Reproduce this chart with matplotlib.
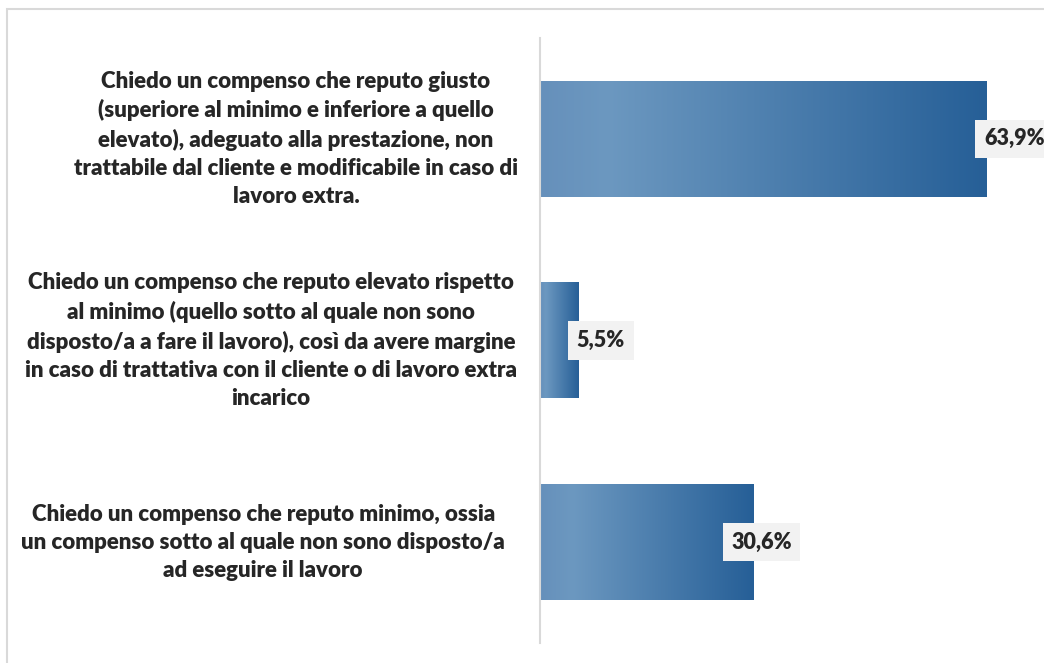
import matplotlib
matplotlib.use("Agg")
import matplotlib.pyplot as plt
import numpy as np
from matplotlib.colors import LinearSegmentedColormap
from matplotlib.patches import Rectangle

categories = [
    "Chiedo un compenso che reputo giusto\n(superiore al minimo e inferiore a quello\nelevato), adeguato alla prestazione, non\ntrattabile dal cliente e modificabile in caso di\nlavoro extra.",
    "Chiedo un compenso che reputo elevato rispetto\nal minimo (quello sotto al quale non sono\ndisposto/a a fare il lavoro), così da avere margine\nin caso di trattativa con il cliente o di lavoro extra\nincarico",
    "Chiedo un compenso che reputo minimo, ossia\nun compenso sotto al quale non sono disposto/a\nad eseguire il lavoro",
]
values = [63.9, 5.5, 30.6]
value_labels = ["63,9%", "5,5%", "30,6%"]

plt.rcParams["font.family"] = ["Lato", "DejaVu Sans"]

fig = plt.figure(figsize=(10.44, 6.63), dpi=100)
W, H = 1044, 663

# outer chart frame, runs past the right and bottom edges
fig.patches.append(Rectangle((7 / W, -0.1), 1.2, 1.1 - 9 / H, transform=fig.transFigure,
                             fill=False, edgecolor="#d9d9d9", linewidth=1.5))

ax = fig.add_axes([540 / W, 1 - 643 / H, 489 / W, 605 / H])

cmap = LinearSegmentedColormap.from_list(
    "bar", [(0, "#6690bb"), (0.15, "#6c98c0"), (1, "#265f97")])
grad = np.linspace(0, 1, 256).reshape(1, -1)
bar_h = 0.575

for i, v in enumerate(values):
    ax.imshow(grad, cmap=cmap, aspect="auto", interpolation="bicubic",
              extent=(0, v, i + bar_h / 2, i - bar_h / 2), zorder=2)

ax.set_xlim(0, 70)
ax.set_ylim(2.5, -0.5)

# value labels sit across each bar's end
label_shift = [4.0, 3.2, 1.1]
for i, (v, s) in enumerate(zip(values, value_labels)):
    ax.text(v + label_shift[i], i, s, ha="center", va="center", fontsize=15.5,
            fontweight="heavy", color="#262626", zorder=4, clip_on=False,
            bbox=dict(boxstyle="square,pad=0.4", fc="#f2f2f2", ec="none"))

label_right = [-3.15, -3.3, -5.0]
for i, c in enumerate(categories):
    ax.text(label_right[i], i, c, ha="right", va="center", multialignment="center",
            fontsize=16, fontweight="heavy", color="#262626", linespacing=1.42,
            clip_on=False)

for side in ["top", "right", "bottom"]:
    ax.spines[side].set_visible(False)
ax.spines["left"].set_color("#d9d9d9")
ax.spines["left"].set_linewidth(1.5)
ax.set_xticks([])
ax.set_yticks([])

plt.savefig("out.png", dpi=100)
